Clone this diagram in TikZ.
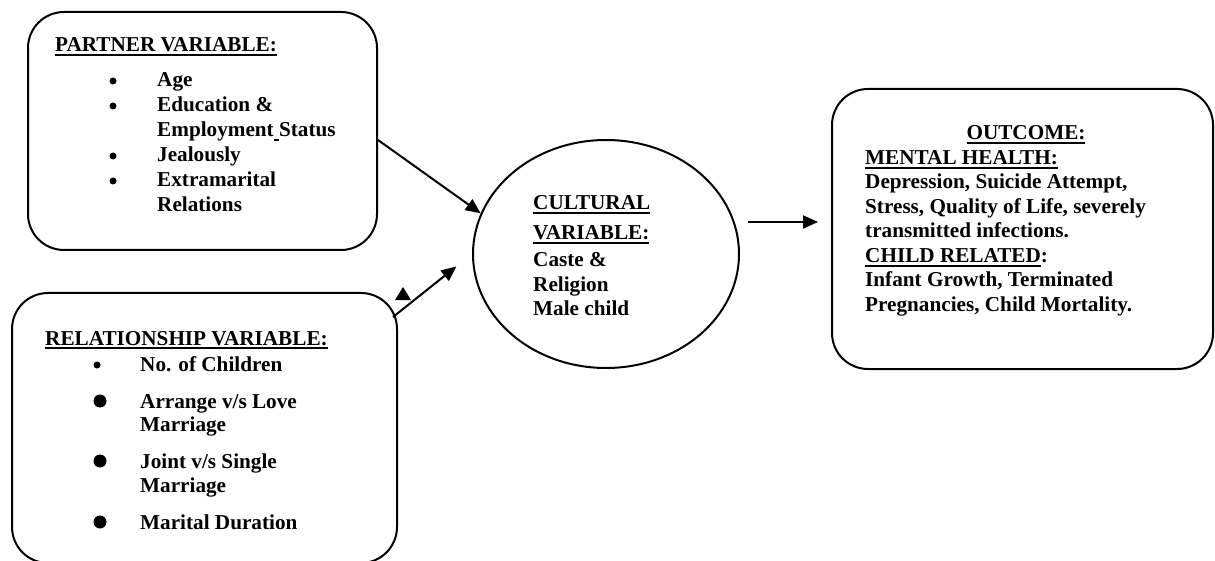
\documentclass[tikz,border=0pt]{standalone}
\usepackage{fontspec}
\setmainfont{Liberation Serif}
\usetikzlibrary{arrows.meta,shapes.geometric,calc,positioning}
\newcommand{\ulbox}[1]{\setbox0\hbox{#1}\rlap{\rule[-4pt]{\wd0}{1.8pt}}\box0}

\begin{document}
\begin{tikzpicture}
	[x=1pt,y=-1pt,
	 every node/.style={inner sep=0pt,font=\fontsize{21.2}{25}\selectfont\bfseries},
	 txt/.style={anchor=base west},
	 box/.style={draw,line width=2pt,rounded corners=36pt},
	 arr/.style={line width=2pt,-{Triangle[length=15pt,width=13pt]}}]
	\useasboundingbox (0,0) rectangle (1215,561);
	\node[box,minimum width=349pt,minimum height=238pt] (partner) at (202.5,131) {};
	\node[box,minimum width=385pt,minimum height=270pt] (rel) at (204.5,428) {};
	\node[draw,line width=2pt,ellipse,minimum width=266pt,minimum height=228pt] (cult) at (606,254) {};
	\node[box,minimum width=381pt,minimum height=280pt] (outc) at (1022.5,229) {};

	\draw (55,52) node[txt] (ptitle) {\ulbox{PARTNER VARIABLE:}};
	\draw (157,87) node[txt] (p1) {Age};
	\draw (157,112) node[txt] (p2) {Education \&};
	\draw (157,137) node[txt] (p3) {Employment\ulbox{ }Status};
	\draw (157,162) node[txt] (p4) {Jealously};
	\draw (157,187) node[txt] (p5) {Extramarital};
	\draw (157,212) node[txt] (p6) {Relations};
	\foreach \y in {81,106,156,181} \fill (113,\y) circle (3.5pt);

	\draw (45,345) node[txt] (rtitle) {\ulbox{RELATIONSHIP VARIABLE:}};
	\draw (140,371) node[txt] (r1) {No. of Children};
	\draw (140,408) node[txt] (r2) {Arrange v/s Love};
	\draw (140,431) node[txt] (r3) {Marriage};
	\draw (140,468) node[txt] (r4) {Joint v/s Single};
	\draw (140,492) node[txt] (r5) {Marriage};
	\draw (140,529) node[txt] (r6) {Marital Duration};
	\fill (97,365) circle (3.5pt);
	\foreach \y in {401,461,522} \fill (100,\y) circle (6.5pt);

	\draw (533,210) node[txt] (c1) {\ulbox{CULTURAL}};
	\draw (533,240) node[txt] (c2) {\ulbox{VARIABLE:}};
	\draw (533,267) node[txt] (c3) {Caste \&};
	\draw (533,291) node[txt] (c4) {Religion};
	\draw (533,315) node[txt] (c5) {Male child};

	\draw (1026,140) node[anchor=base] (o0) {\ulbox{OUTCOME:}};
	\draw (865,165) node[txt] (o1) {\ulbox{MENTAL HEALTH:}};
	\draw (865,189) node[txt] (o2) {Depression, Suicide Attempt,};
	\draw (865,214) node[txt] (o3) {Stress, Quality of Life, severely};
	\draw (865,238) node[txt] (o4) {transmitted infections.};
	\draw (865,263) node[txt] (o5) {\ulbox{CHILD RELATED}:};
	\draw (865,287) node[txt] (o6) {Infant Growth, Terminated};
	\draw (865,312) node[txt] (o7) {Pregnancies, Child Mortality.};

	\coordinate (relc) at ($(rel.north east)+(-5,25)$);
	\draw[arr] ([yshift=-9pt]partner.east) -- (cult.162);
	\draw[arr,shorten >=20pt] (relc) -- (cult.west);
	\draw[arr] ([xshift=8pt,yshift=32pt]cult.east) -- ([xshift=-13pt,yshift=7pt]outc.west);
	\fill (395,300) -- (403,287) -- (411,300) -- cycle;
\end{tikzpicture}
\end{document}
